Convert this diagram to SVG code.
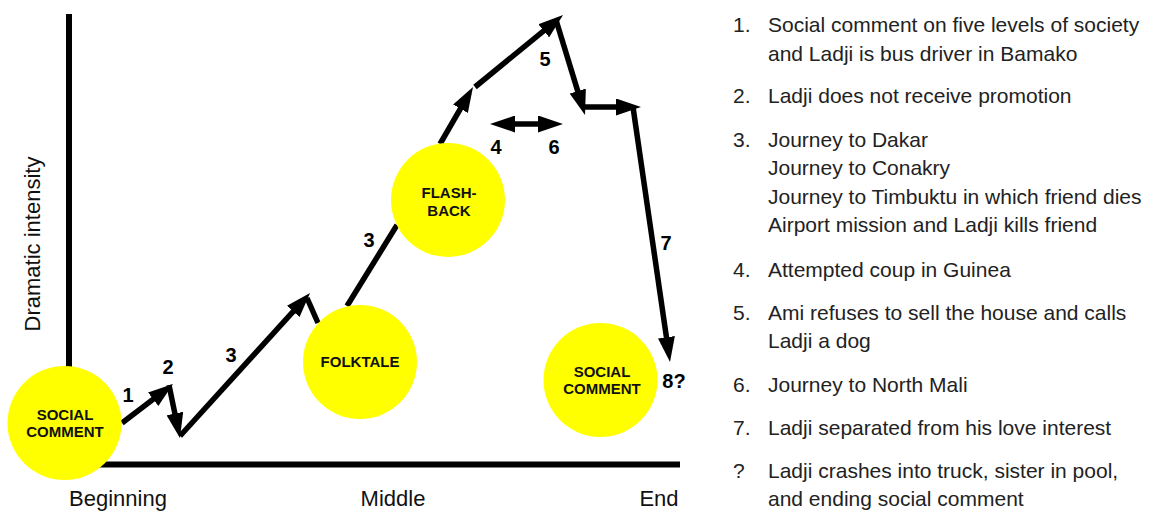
<svg xmlns="http://www.w3.org/2000/svg" width="1171" height="511" viewBox="0 0 1171 511">
<defs>
<style>
.axis{stroke:#000;stroke-width:6;fill:none}
.conn{stroke:#000;stroke-width:5.5;fill:none}
.arr{marker-end:url(#ah)}
.node{fill:#ffff00}
.nt{font-family:"Liberation Sans",Arial,sans-serif;font-weight:bold;font-size:15px;fill:#111;text-anchor:middle}
.num{font-family:"Liberation Sans",Arial,sans-serif;font-weight:bold;font-size:20px;fill:#000;text-anchor:middle}
.ax{font-family:"Liberation Sans",Arial,sans-serif;font-size:22px;fill:#111;text-anchor:middle}
.li{font-family:"Liberation Sans",Arial,sans-serif;font-size:21px;fill:#222}
</style>
<marker id="ah" viewBox="0 0 25 17" markerWidth="25" markerHeight="17" refX="15" refY="8.5" markerUnits="userSpaceOnUse" orient="auto-start-reverse">
<path d="M0,0 L25,8.5 L0,17 z" fill="#000"/>
</marker>
</defs>

<g id="axes">
<line class="axis" x1="69" y1="14" x2="69" y2="380"/>
<line class="axis" x1="90" y1="464.5" x2="680" y2="464.5"/>
<text class="ax" transform="translate(40,244) rotate(-90)">Dramatic intensity</text>
<text class="ax" x="118" y="506">Beginning</text>
<text class="ax" x="393" y="506">Middle</text>
<text class="ax" x="659" y="506">End</text>
</g>

<g id="connectors">
<line class="conn arr" x1="122" y1="423" x2="165.1" y2="390.1"/>
<line class="conn arr" x1="169" y1="385" x2="177.9" y2="428.2"/>
<line class="conn arr" x1="180" y1="436" x2="303.3" y2="300.4"/>
<line class="conn" x1="307" y1="298" x2="318" y2="323"/>
<line class="conn" x1="347" y1="306" x2="397" y2="225"/>
<line class="conn arr" x1="440" y1="144" x2="468" y2="95.7"/>
<line class="conn arr" x1="475" y1="87" x2="555.3" y2="21.3"/>
<line class="conn arr" x1="556" y1="20" x2="582.1" y2="105.4"/>
<line class="conn arr" x1="585" y1="107" x2="631" y2="107"/>
<line class="conn arr" x1="633" y1="107" x2="668.6" y2="352.1"/>
<line class="conn arr" style="marker-start:url(#ah)" x1="500" y1="124" x2="553" y2="124"/>
</g>

<g id="labels">
<text class="num" x="128" y="402">1</text>
<text class="num" x="168" y="374">2</text>
<text class="num" x="231" y="362">3</text>
<text class="num" x="369" y="247">3</text>
<text class="num" x="496" y="154">4</text>
<text class="num" x="545" y="66">5</text>
<text class="num" x="554" y="154">6</text>
<text class="num" x="666" y="250">7</text>
<text class="num" x="674" y="388">8?</text>
</g>

<g id="node-social-start">
<circle class="node" cx="64.5" cy="423" r="57"/>
<text class="nt" x="65" y="420">SOCIAL</text>
<text class="nt" x="65" y="437">COMMENT</text>
</g>
<g id="node-folktale">
<circle class="node" cx="360" cy="362" r="57"/>
<text class="nt" x="360" y="367">FOLKTALE</text>
</g>
<g id="node-flashback">
<circle class="node" cx="448" cy="200" r="57"/>
<text class="nt" x="449" y="198">FLASH-</text>
<text class="nt" x="449" y="216">BACK</text>
</g>
<g id="node-social-end">
<circle class="node" cx="600.5" cy="380" r="57"/>
<text class="nt" x="602" y="377">SOCIAL</text>
<text class="nt" x="602" y="394">COMMENT</text>
</g>

<g id="legend">
<text class="li" x="733" y="32">1.</text>
<text class="li" x="768" y="32">Social comment on five levels of society</text>
<text class="li" x="768" y="61">and Ladji is bus driver in Bamako</text>
<text class="li" x="733" y="103">2.</text>
<text class="li" x="768" y="103">Ladji does not receive promotion</text>
<text class="li" x="733" y="147">3.</text>
<text class="li" x="768" y="147">Journey to Dakar</text>
<text class="li" x="768" y="175">Journey to Conakry</text>
<text class="li" x="768" y="204">Journey to Timbuktu in which friend dies</text>
<text class="li" x="768" y="232">Airport mission and Ladji kills friend</text>
<text class="li" x="733" y="277">4.</text>
<text class="li" x="768" y="277">Attempted coup in Guinea</text>
<text class="li" x="733" y="320">5.</text>
<text class="li" x="768" y="320">Ami refuses to sell the house and calls</text>
<text class="li" x="768" y="348">Ladji a dog</text>
<text class="li" x="733" y="392">6.</text>
<text class="li" x="768" y="392">Journey to North Mali</text>
<text class="li" x="733" y="435">7.</text>
<text class="li" x="768" y="435">Ladji separated from his love interest</text>
<text class="li" x="733" y="478">?</text>
<text class="li" x="768" y="478">Ladji crashes into truck, sister in pool,</text>
<text class="li" x="768" y="506">and ending social comment</text>
</g>
</svg>
